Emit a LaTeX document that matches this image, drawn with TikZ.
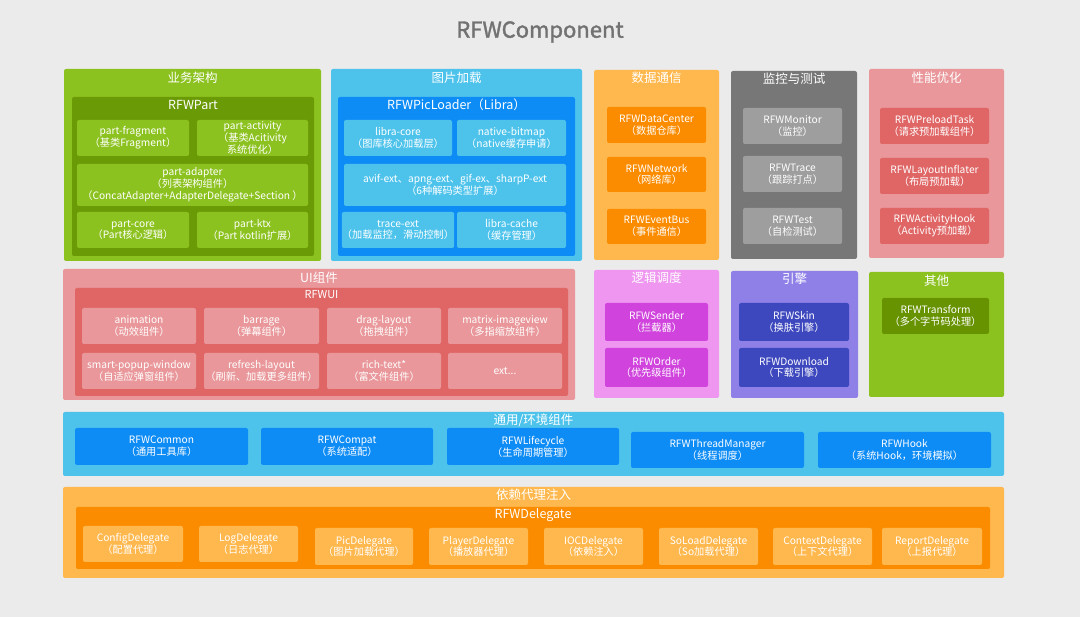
\documentclass[tikz,border=0pt]{standalone}
\usepackage{fontspec}
\setmainfont{Noto Sans CJK SC}
\newfontfamily\titlefont[FakeBold=1.6]{Noto Sans CJK SC}
\definecolor{bg}{HTML}{EBEBEB}
\definecolor{ttlgray}{HTML}{727272}
\definecolor{grn}{HTML}{8CC21F}
\definecolor{dgrn}{HTML}{6A9A05}
\definecolor{dgrn2}{HTML}{679300}
\definecolor{lblue}{HTML}{4DC3EC}
\definecolor{dblue}{HTML}{0E8CF5}
\definecolor{lorg}{HTML}{FFB84D}
\definecolor{dorg}{HTML}{FB8C00}
\definecolor{gpanel}{HTML}{777777}
\definecolor{gbox}{HTML}{9E9E9E}
\definecolor{lpink}{HTML}{E9979A}
\definecolor{dred}{HTML}{E06666}
\definecolor{lmag}{HTML}{EF96F0}
\definecolor{dmag}{HTML}{D043DD}
\definecolor{lpur}{HTML}{8F80E8}
\definecolor{dind}{HTML}{3E48BE}
\tikzset{
  pnl/.style={rectangle, rounded corners=2pt, inner sep=0pt, outer sep=0pt},
  rbx/.style={rectangle, rounded corners=2pt, inner sep=0pt, outer sep=0pt, align=center,
    text=white, font=\fontsize{10.2}{11.8}\selectfont},
  ttl/.style={inner sep=0pt, text=white, font=\fontsize{12.5}{14}\selectfont},
  sttl/.style={inner sep=0pt, text=white, font=\fontsize{11}{13}\selectfont},
}
% #1 name, #2 fill, #3 x1, #4 y1, #5 x2, #6 y2, #7 text
\newcommand\RBox[7]{\node[rbx, fill=#2, minimum width={#5pt-#3pt}, minimum height={#6pt-#4pt}] (#1) at ({(#3+#5)/2},{(#4+#6)/2}) {#7};}
% #1 name, #2 fill, #3 x1, #4 y1, #5 x2, #6 y2, #7 title y, #8 title
\newcommand\Panel[8]{\node[pnl, fill=#2, minimum width={#5pt-#3pt}, minimum height={#6pt-#4pt}] (#1) at ({(#3+#5)/2},{(#4+#6)/2}) {};
  \node[ttl] (#1t) at ({(#3+#5)/2},#7) {#8};}
\begin{document}
\begin{tikzpicture}[x=1pt,y=-1pt]
\fill[bg] (0,0) rectangle (1080,617);
\useasboundingbox (0,0) rectangle (1080,617);
\node[inner sep=0pt, text=ttlgray, font=\titlefont\fontsize{22}{26}\selectfont] (title) at (540,32) {RFWComponent};

% ---- 业务架构
\Panel{pA}{grn}{64}{69}{321}{261}{78}{业务架构}
\Panel{pAi}{dgrn}{72}{97}{314}{256}{105}{RFWPart}
\RBox{a1}{grn}{77}{120}{189}{156}{part-fragment\\（基类Fragment）}
\RBox{a2}{grn}{197}{120}{308}{156}{part-activity\\（基类Acitivity\\系统优化）}
\RBox{a3}{grn}{77}{164}{308}{206}{part-adapter\\（列表架构组件）\\（ConcatAdapter+AdapterDelegate+Section ）}
\RBox{a4}{grn}{77}{212}{189}{248}{part-core\\（Part核心逻辑）}
\RBox{a5}{grn}{197}{212}{308}{248}{part-ktx\\（Part kotlin扩展）}

% ---- 图片加载
\Panel{pB}{lblue}{331}{69}{582}{261}{78}{图片加载}
\Panel{pBi}{dblue}{338}{97}{575}{256}{105}{RFWPicLoader（Libra）}
\RBox{b1}{lblue}{344}{120}{452}{156}{libra-core\\（图库核心加载层）}
\RBox{b2}{lblue}{457}{120}{566}{156}{native-bitmap\\（native缓存申请）}
\RBox{b3}{lblue}{344}{164}{566}{206}{avif-ext、apng-ext、gif-ex、sharpP-ext\\（6种解码类型扩展）}
\RBox{b4}{lblue}{344}{212}{452}{248}{trace-ext\\（加载监控，滑动控制）}
\RBox{b5}{lblue}{457}{212}{566}{248}{libra-cache\\（缓存管理）}

% ---- 数据通信
\Panel{pC}{lorg}{594}{70}{719}{260}{78}{数据通信}
\RBox{c1}{dorg}{607}{107}{706}{143}{RFWDataCenter\\（数据仓库）}
\RBox{c2}{dorg}{607}{157}{706}{192}{RFWNetwork\\（网络库）}
\RBox{c3}{dorg}{607}{209}{706}{244}{RFWEventBus\\（事件通信）}

% ---- 监控与测试
\Panel{pD}{gpanel}{731}{71}{857}{259}{79}{监控与测试}
\RBox{d1}{gbox}{743}{108}{842}{144}{RFWMonitor\\（监控）}
\RBox{d2}{gbox}{743}{156}{842}{192}{RFWTrace\\（跟踪打点）}
\RBox{d3}{gbox}{743}{208}{842}{244}{RFWTest\\（自检测试）}

% ---- 性能优化
\Panel{pE}{lpink}{869}{69}{1004}{258}{78}{性能优化}
\RBox{e1}{dred}{880}{108}{989}{144}{RFWPreloadTask\\（请求预加载组件）}
\RBox{e2}{dred}{880}{158}{989}{194}{RFWLayoutInflater\\（布局预加载）}
\RBox{e3}{dred}{880}{208}{989}{244}{RFWActivityHook\\（Activity预加载）}

% ---- UI组件
\Panel{pF}{lpink}{63}{269}{575}{400}{278}{UI组件}
\node[pnl, fill=dred, minimum width=493pt, minimum height=108pt] (pFi) at (321.5,342) {};
\node[sttl] (pFit) at (321.5,295) {RFWUI};
\RBox{f1}{lpink}{82}{308}{196}{344}{animation\\（动效组件）}
\RBox{f2}{lpink}{204}{308}{319}{344}{barrage\\（弹幕组件）}
\RBox{f3}{lpink}{327}{308}{441}{344}{drag-layout\\（拖拽组件）}
\RBox{f4}{lpink}{448}{308}{562}{344}{matrix-imageview\\（多指缩放组件）}
\RBox{f5}{lpink}{82}{353}{196}{389}{smart-popup-window\\（自适应弹窗组件）}
\RBox{f6}{lpink}{204}{353}{319}{389}{refresh-layout\\（刷新、加载更多组件）}
\RBox{f7}{lpink}{327}{353}{441}{389}{rich-text*\\（富文件组件）}
\RBox{f8}{lpink}{448}{353}{562}{389}{ext...}

% ---- 逻辑调度
\Panel{pG}{lmag}{594}{270}{719}{398}{278}{逻辑调度}
\RBox{g1}{dmag}{605}{303}{708}{341}{RFWSender\\（拦截器）}
\RBox{g2}{dmag}{605}{348}{708}{387}{RFWOrder\\（优先级组件）}

% ---- 引擎
\Panel{pH}{lpur}{731}{271}{858}{398}{279}{引擎}
\RBox{h1}{dind}{739}{303}{849}{341}{RFWSkin\\（换肤引擎）}
\RBox{h2}{dind}{739}{348}{849}{387}{RFWDownload\\（下载引擎）}

% ---- 其他
\Panel{pI}{grn}{869}{272}{1004}{397}{281}{其他}
\RBox{i1}{dgrn2}{882}{298}{989}{334}{RFWTransform\\（多个字节码处理）}

% ---- 通用/环境组件
\Panel{pJ}{lblue}{63}{412}{1004}{476}{420}{通用/环境组件}
\RBox{j1}{dblue}{75}{428}{248}{465}{RFWCommon\\（通用工具库）}
\RBox{j2}{dblue}{261}{428}{433}{465}{RFWCompat\\（系统适配）}
\RBox{j3}{dblue}{447}{428}{619}{465}{RFWLifecycle\\（生命周期管理）}
\RBox{j4}{dblue}{631}{432}{804}{468}{RFWThreadManager\\（线程调度）}
\RBox{j5}{dblue}{818}{432}{991}{468}{RFWHook\\（系统Hook，环境模拟）}

% ---- 依赖代理注入
\Panel{pK}{lorg}{63}{487}{1004}{578}{495}{依赖代理注入}
\Panel{pKi}{dorg}{76}{507}{990}{569}{515}{RFWDelegate}
\RBox{k1}{lorg}{83}{526}{183}{562}{ConfigDelegate\\（配置代理）}
\RBox{k2}{lorg}{199}{526}{298}{562}{LogDelegate\\（日志代理）}
\RBox{k3}{lorg}{315}{528}{413}{565}{PicDelegate\\（图片加载代理）}
\RBox{k4}{lorg}{429}{528}{528}{565}{PlayerDelegate\\（播放器代理）}
\RBox{k5}{lorg}{544}{528}{643}{565}{IOCDelegate\\（依赖注入）}
\RBox{k6}{lorg}{659}{528}{758}{565}{SoLoadDelegate\\（So加载代理）}
\RBox{k7}{lorg}{773}{528}{872}{565}{ContextDelegate\\（上下文代理）}
\RBox{k8}{lorg}{882}{528}{982}{565}{ReportDelegate\\（上报代理）}
\end{tikzpicture}
\end{document}
